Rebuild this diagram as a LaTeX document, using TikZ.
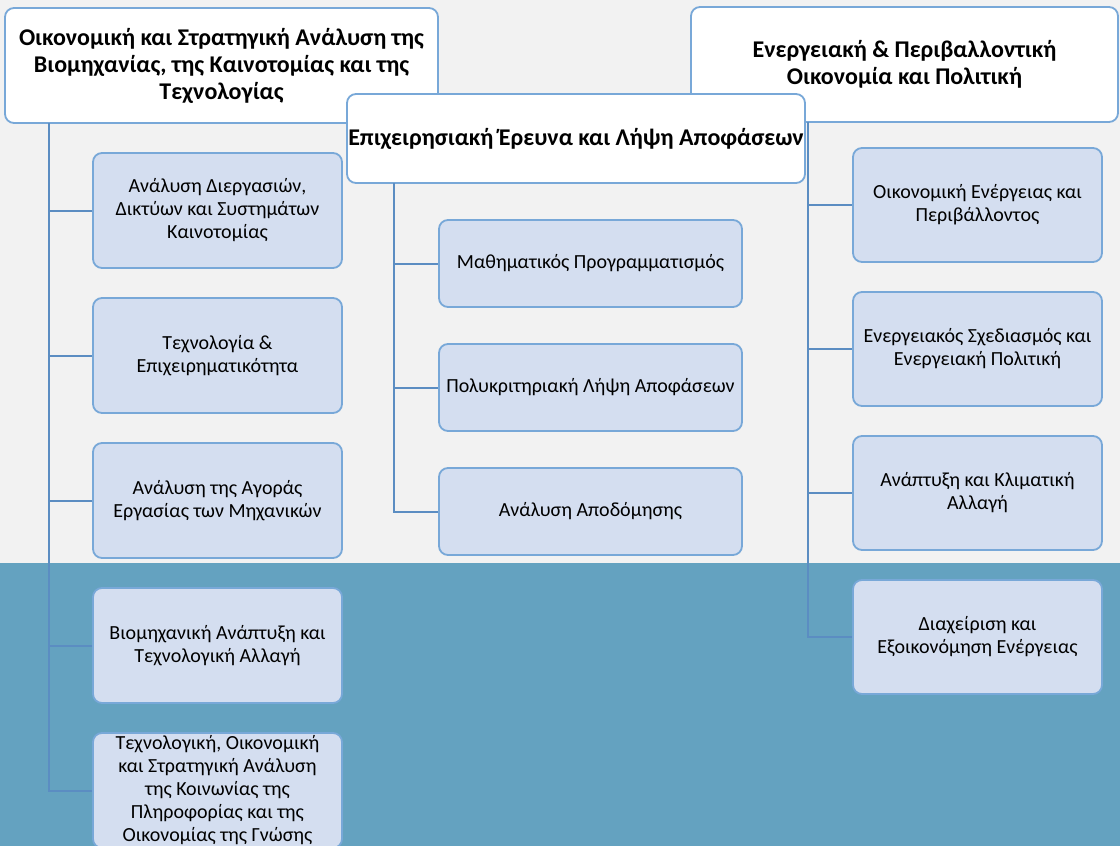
\documentclass[tikz,border=0pt]{standalone}
\usepackage{fontspec}
\setmainfont{Carlito}
\usetikzlibrary{positioning}

\definecolor{pagegray}{HTML}{F2F2F2}
\definecolor{seablue}{HTML}{64A2C0}
\definecolor{boxfill}{HTML}{D4DEF0}
\definecolor{boxedge}{HTML}{78A8D8}
\definecolor{linkblue}{HTML}{5B8DC2}

\begin{document}
\begin{tikzpicture}[x=1pt, y=-1pt]
 \tikzstyle{head}=[rectangle, rounded corners=9pt, draw=boxedge, line width=1.8pt, fill=white, inner sep=0pt, align=center, font=\fontsize{24}{27}\selectfont\bfseries]
 \tikzstyle{topic}=[rectangle, rounded corners=9pt, draw=boxedge, line width=1.8pt, fill=boxfill, inner sep=0pt, align=center, font=\fontsize{20}{23}\selectfont]
 \tikzstyle{link}=[draw=linkblue, line width=2pt]

 \useasboundingbox (0,0) rectangle (1120,846);
 \fill[pagegray] (0,0) rectangle (1120,563);
 \fill[seablue] (0,563) rectangle (1120,846);

 % headings
 \draw (221.5,65.5) node[head, minimum width=433pt, minimum height=115pt] (h1)
   {Οικονομική και Στρατηγική Ανάλυση της\\Βιομηχανίας, της Καινοτομίας και της\\Τεχνολογίας};
 \draw (904.5,64.5) node[head, minimum width=427pt, minimum height=115pt] (h3)
   {Ενεργειακή \& Περιβαλλοντική\\Οικονομία και Πολιτική};
 \draw (576,138.5) node[head, minimum width=458pt, minimum height=89pt] (h2)
   {Επιχειρησιακή Έρευνα και Λήψη Αποφάσεων};

 \begin{scope}
 % left column
 \draw (217.5,210.5) node[topic, minimum width=249pt, minimum height=115pt] (a1)
   {Ανάλυση Διεργασιών,\\Δικτύων και Συστημάτων\\Καινοτομίας};
 \draw (217.5,355.5) node[topic, minimum width=249pt, minimum height=115pt] (a2)
   {Τεχνολογία \&\\Επιχειρηματικότητα};
 \draw (217.5,500.5) node[topic, minimum width=249pt, minimum height=115pt] (a3)
   {Ανάλυση της Αγοράς\\Εργασίας των Μηχανικών};
 \draw (217.5,645.5) node[topic, minimum width=249pt, minimum height=115pt] (a4)
   {Βιομηχανική Ανάπτυξη και\\Τεχνολογική Αλλαγή};
 \draw (217.5,790.5) node[topic, minimum width=249pt, minimum height=115pt] (a5)
   {Τεχνολογική, Οικονομική\\και Στρατηγική Ανάλυση\\της Κοινωνίας της\\Πληροφορίας και της\\Οικονομίας της Γνώσης};
 \coordinate (t1) at (49,123);
 \path [link] (t1) |- (a1.west);
 \path [link] (t1) |- (a2.west);
 \path [link] (t1) |- (a3.west);
 \path [link] (t1) |- (a4.west);
 \path [link] (t1) |- (a5.west);
 \end{scope}

 \begin{scope}
 % middle column
 \draw (590.5,263.5) node[topic, minimum width=303pt, minimum height=87pt] (b1)
   {Μαθηματικός Προγραμματισμός};
 \draw (590.5,387.5) node[topic, minimum width=303pt, minimum height=87pt] (b2)
   {Πολυκριτηριακή Λήψη Αποφάσεων};
 \draw (590.5,511.5) node[topic, minimum width=303pt, minimum height=87pt] (b3)
   {Ανάλυση Αποδόμησης};
 \coordinate (t2) at (394,183);
 \path [link] (t2) |- (b1.west);
 \path [link] (t2) |- (b2.west);
 \path [link] (t2) |- (b3.west);
 \end{scope}

 \begin{scope}
 % right column
 \draw (977.5,205) node[topic, minimum width=249pt, minimum height=114pt] (c1)
   {Οικονομική Ενέργειας και\\Περιβάλλοντος};
 \draw (977.5,349) node[topic, minimum width=249pt, minimum height=114pt] (c2)
   {Ενεργειακός Σχεδιασμός και\\Ενεργειακή Πολιτική};
 \draw (977.5,493) node[topic, minimum width=249pt, minimum height=114pt] (c3)
   {Ανάπτυξη και Κλιματική\\Αλλαγή};
 \draw (977.5,637) node[topic, minimum width=249pt, minimum height=114pt] (c4)
   {Διαχείριση και\\Εξοικονόμηση Ενέργειας};
 \coordinate (t3) at (808,122);
 \path [link] (t3) |- (c1.west);
 \path [link] (t3) |- (c2.west);
 \path [link] (t3) |- (c3.west);
 \path [link] (t3) |- (c4.west);
 \end{scope}

\end{tikzpicture}
\end{document}
